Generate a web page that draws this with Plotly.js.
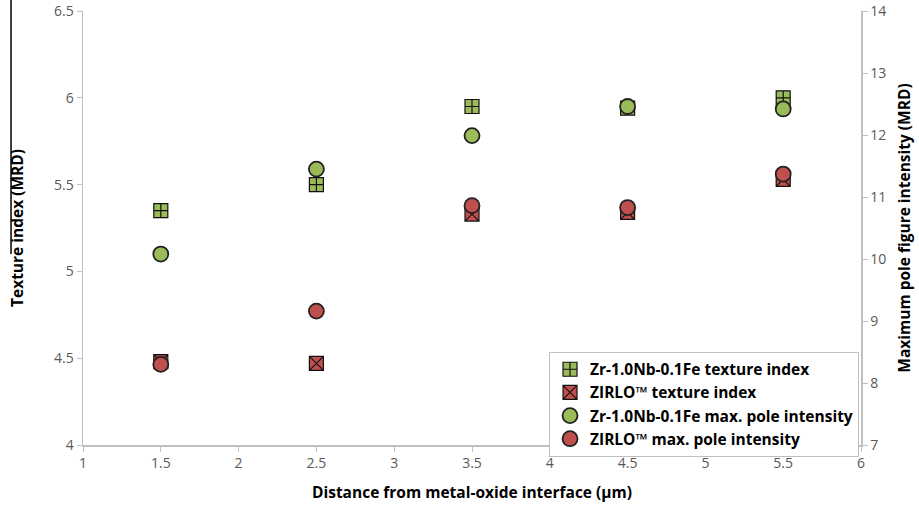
<!DOCTYPE html>
<html>
<head>
<meta charset="utf-8">
<script src="https://cdn.plot.ly/plotly-3.0.1.min.js"></script>
<style>html,body{margin:0;padding:0;background:#fff;}#chart{width:919px;height:509px;}</style>
</head>
<body>
<div id="chart"></div>
<script>
// Data
var distances = [1.5, 2.5, 3.5, 4.5, 5.5];
var zrTextureIndex = [5.35, 5.5, 5.95, 5.94, 6.0];
var zirloTextureIndex = [4.48, 4.47, 5.33, 5.34, 5.53];
var zrMaxPole = [10.08, 11.45, 11.99, 12.46, 12.42];
var zirloMaxPole = [8.3, 9.16, 10.86, 10.83, 11.37];

var seriesNames = [
  "Zr-1.0Nb-0.1Fe texture index",
  "ZIRLO\u2122 texture index",
  "Zr-1.0Nb-0.1Fe max. pole intensity",
  "ZIRLO\u2122 max. pole intensity"
];
var xTickVals = [1, 1.5, 2, 2.5, 3, 3.5, 4, 4.5, 5, 5.5, 6];
var xTickText = ["1", "1.5", "2", "2.5", "3", "3.5", "4", "4.5", "5", "5.5", "6"];
var yTickVals = [4, 4.5, 5, 5.5, 6, 6.5];
var yTickText = ["4", "4.5", "5", "5.5", "6", "6.5"];
var y2TickVals = [7, 8, 9, 10, 11, 12, 13, 14];

var green = "#9bbb59";
var red = "#c0504d";
var fontFam = "'Open Sans', 'Noto Sans', sans-serif";

var traces = [
  {x: distances, y: zrTextureIndex, name: seriesNames[0], type: "scatter", mode: "markers", yaxis: "y",
   marker: {symbol: "square-cross", size: 14, color: green, line: {color: "#111", width: 1.2}}},
  {x: distances, y: zirloTextureIndex, name: seriesNames[1], type: "scatter", mode: "markers", yaxis: "y",
   marker: {symbol: "square-x", size: 14, color: red, line: {color: "#111", width: 1.2}}},
  {x: distances, y: zrMaxPole, name: seriesNames[2], type: "scatter", mode: "markers", yaxis: "y2",
   marker: {symbol: "circle", size: 15, color: green, line: {color: "#222", width: 1.8}}},
  {x: distances, y: zirloMaxPole, name: seriesNames[3], type: "scatter", mode: "markers", yaxis: "y2",
   marker: {symbol: "circle", size: 15, color: red, line: {color: "#222", width: 1.8}}}
];

var axisCommon = {
  showgrid: false, zeroline: false, showline: true, linecolor: "#bfbfbf", linewidth: 1.5,
  ticks: "outside", ticklen: 5, tickcolor: "#bfbfbf", tickwidth: 1,
  tickfont: {family: fontFam, size: 14, color: "#595959"}
};

var layout = {
  width: 919, height: 509,
  margin: {l: 83, r: 58, t: 11, b: 64},
  paper_bgcolor: "#fff", plot_bgcolor: "#fff",
  showlegend: true,
  legend: {
    x: 0.599, y: 0.215, xanchor: "left", yanchor: "top",
    bgcolor: "#fff", bordercolor: "#bfbfbf", borderwidth: 1,
    font: {family: fontFam, size: 15.5, color: "#000", weight: "bold"},
    tracegroupgap: 0, itemwidth: 30
  },
  xaxis: Object.assign({}, axisCommon, {
    range: [1, 6], tickmode: "array", tickvals: xTickVals, ticktext: xTickText,
    title: {text: "<b>Distance from metal-oxide interface (\u03bcm)</b>", font: {family: fontFam, size: 15.5, color: "#000"}, standoff: 16}
  }),
  yaxis: Object.assign({}, axisCommon, {
    range: [4, 6.5], tickmode: "array", tickvals: yTickVals, ticktext: yTickText,
    title: {text: "<b>Texture index (MRD)</b>", font: {family: fontFam, size: 15.5, color: "#000"}, standoff: 26}
  }),
  yaxis2: Object.assign({}, axisCommon, {
    range: [7, 14], tickmode: "array", tickvals: y2TickVals, overlaying: "y", side: "right",
    title: {text: "<b>Maximum pole figure intensity (MRD)</b>", font: {family: fontFam, size: 15.5, color: "#000"}, standoff: 14}
  }),
  shapes: [
    {type: "line", xref: "paper", yref: "paper", x0: -0.0925, x1: -0.0925, y0: 1.03, y1: 0.44,
     line: {color: "#000", width: 1.5}}
  ]
};

Plotly.newPlot("chart", traces, layout, {displayModeBar: false, staticPlot: true});
</script>
</body>
</html>
